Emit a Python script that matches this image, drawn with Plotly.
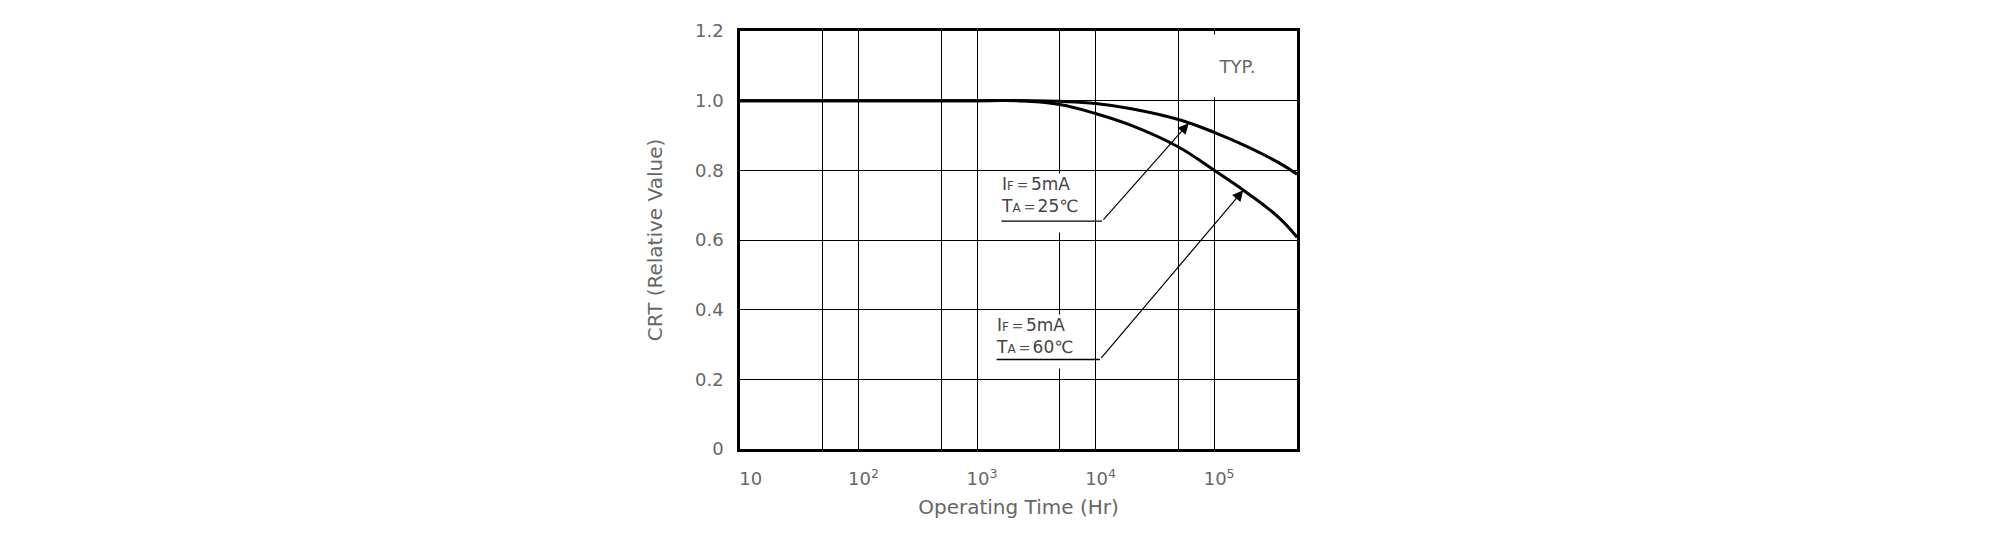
import numpy as np
import plotly.graph_objects as go

# CTR (relative value) vs operating time
hours_25c = [10, 1000, 3000, 5000, 10000, 20000, 50000, 100000, 190000, 350000, 500000]
ctr_25c = [1.0, 1.0, 1.0, 0.998, 0.992, 0.977, 0.946, 0.909, 0.868, 0.822, 0.789]

hours_60c = [10, 1000, 2500, 5000, 10000, 20000, 50000, 100000, 190000, 350000, 500000]
ctr_60c = [1.0, 1.0, 0.999, 0.989, 0.963, 0.929, 0.867, 0.800, 0.735, 0.665, 0.608]

# axis ticks / grid
x_tickvals = [10, 50, 100, 500, 1000, 5000, 10000, 50000, 100000]
x_ticktext = ["\u00a0\u00a010", "", "10<sup>2</sup>", "", "10<sup>3</sup>", "",
              "10<sup>4</sup>", "", "10<sup>5</sup>"]
y_tickvals = [0, 0.2, 0.4, 0.6, 0.8, 1.0, 1.2]
y_ticktext = ["0", "0.2", "0.4", "0.6", "0.8", "1.0", "1.2"]

label_25c = "I<span style='font-size:12px'>F</span>\uff1d5mA<br>T<span style='font-size:12px'>A</span>\uff1d25\u2103"
label_60c = "I<span style='font-size:12px'>F</span>\uff1d5mA<br>T<span style='font-size:12px'>A</span>\uff1d60\u2103"

FONT = "DejaVu Sans"
GREY = "#666"

fig = go.Figure()
fig.add_trace(go.Scatter(x=hours_25c, y=ctr_25c, mode="lines", name="25C",
                         line=dict(color="black", width=3, shape="spline", smoothing=1.2)))
fig.add_trace(go.Scatter(x=hours_60c, y=ctr_60c, mode="lines", name="60C",
                         line=dict(color="black", width=3, shape="spline", smoothing=1.2)))


def on_curve(xs, ys, x):
    # y of a curve at time x (log-x interpolation), used for arrow tips
    return float(np.interp(np.log10(x), np.log10(xs), ys))


tip_25 = 61000
tip_60 = 176000

annotations = [
    # white boxes that break the grid behind the texts
    dict(text="TYP.", x=np.log10(156000), y=1.1, xref="x", yref="y",
         showarrow=False, bgcolor="white", width=112, height=62, borderpad=0,
         font=dict(size=18, color=GREY, family=FONT)),
    dict(text=label_25c, x=np.log10(1560), y=0.791, xref="x", yref="y",
         xanchor="left", yanchor="top", showarrow=False, bgcolor="white",
         width=88, height=58, borderpad=0, align="left", valign="top",
         font=dict(size=17, color="#444", family=FONT)),
    dict(text=label_60c, x=np.log10(1420), y=0.389, xref="x", yref="y",
         xanchor="left", yanchor="top", showarrow=False, bgcolor="white",
         width=93, height=53, borderpad=0, align="left", valign="top",
         font=dict(size=17, color="#444", family=FONT)),
    # underlines
    dict(text="", x=np.log10(11350), y=0.654, ax=np.log10(1560), ay=0.654,
         xref="x", yref="y", axref="x", ayref="y", showarrow=True,
         arrowhead=0, arrowwidth=1.3, arrowcolor="black"),
    dict(text="", x=np.log10(10900), y=0.257, ax=np.log10(1420), ay=0.257,
         xref="x", yref="y", axref="x", ayref="y", showarrow=True,
         arrowhead=0, arrowwidth=1.3, arrowcolor="black"),
    # leaders with arrowheads
    dict(text="", x=np.log10(tip_25), y=on_curve(hours_25c, ctr_25c, tip_25),
         ax=np.log10(11350), ay=0.654, xref="x", yref="y", axref="x", ayref="y",
         showarrow=True, arrowhead=2, arrowsize=1.8, arrowwidth=1.2,
         arrowcolor="black"),
    dict(text="", x=np.log10(tip_60), y=on_curve(hours_60c, ctr_60c, tip_60),
         ax=np.log10(10900), ay=0.257, xref="x", yref="y", axref="x", ayref="y",
         showarrow=True, arrowhead=2, arrowsize=1.8, arrowwidth=1.2,
         arrowcolor="black"),
]

fig.update_layout(
    width=1999, height=542,
    margin=dict(l=732, r=710, t=21, b=101),
    paper_bgcolor="white", plot_bgcolor="white",
    showlegend=False,
    font=dict(family=FONT, color=GREY),
    annotations=annotations,
)

fig.update_xaxes(
    type="log", range=[1, np.log10(5e5)],
    tickvals=x_tickvals, ticktext=x_ticktext, ticks="",
    tickfont=dict(size=18, color=GREY), ticklabelstandoff=12, ticklabelshift=5,
    showgrid=True, gridcolor="black", gridwidth=1.3, zeroline=False,
    showline=True, linecolor="black", linewidth=2.5, mirror=True,
    title=dict(text="Operating Time (Hr)", font=dict(size=20, color=GREY), standoff=12),
)
fig.update_yaxes(
    range=[0, 1.2], tickvals=y_tickvals, ticktext=y_ticktext, ticks="",
    tickfont=dict(size=18, color=GREY), ticklabelstandoff=10,
    showgrid=True, gridcolor="black", gridwidth=1.3, zeroline=False,
    showline=True, linecolor="black", linewidth=2.5, mirror=True,
    title=dict(text="CRT (Relative Value)", font=dict(size=20, color=GREY), standoff=28),
)

fig.write_html("out.html")
